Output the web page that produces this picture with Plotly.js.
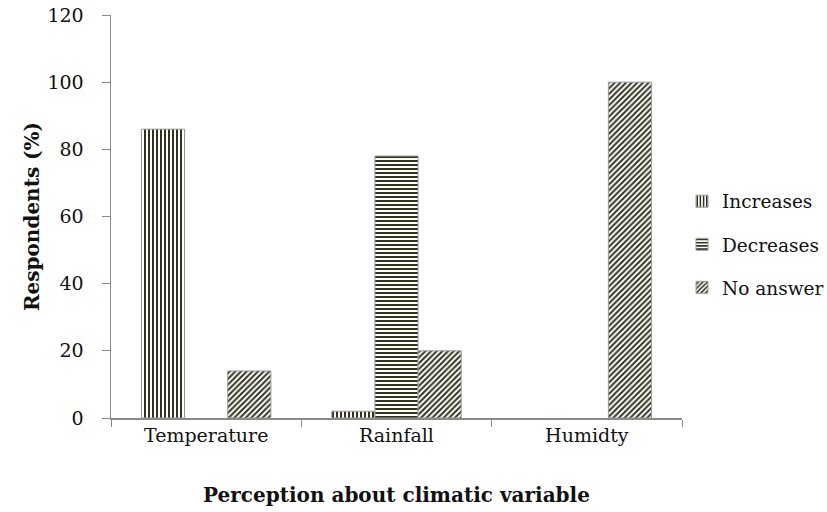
<!DOCTYPE html>
<html>
<head>
<meta charset="utf-8">
<script src="https://cdn.plot.ly/plotly-3.0.1.min.js"></script>
<style>html,body{margin:0;padding:0;background:#fff;}#chart{width:827px;height:512px;}</style>
</head>
<body>
<div id="chart"></div>
<script>
var categories = ["Temperature", "Rainfall", "Humidty"];
var increases = [86, 2, null];
var decreases = [null, 78, null];
var noAnswer = [14, 20, 100];
var yTicks = [0, 20, 40, 60, 80, 100, 120];

var fg = "#34321f";
function mk(name, vals, shape, grp) {
  return {
    type: "bar", name: name, x: categories, y: vals, legendgroup: grp,
    marker: {
      color: fg,
      line: {color: "#9a9a9a", width: 1},
      pattern: {shape: shape, fgcolor: fg, bgcolor: "#ffffff", fgopacity: 1, size: 4, solidity: 0.5, fillmode: "replace"}
    }
  };
}
var data = [
  mk("Increases", increases, "|", "a"),
  mk("Decreases", decreases, "-", "b"),
  mk("No answer", noAnswer, "/", "c")
];
var font = "DejaVu Serif, Georgia, serif";
var layout = {
  width: 827, height: 512,
  margin: {l: 111, r: 145, t: 15, b: 94, autoexpand: false},
  paper_bgcolor: "#fff", plot_bgcolor: "#fff",
  barmode: "group", bargap: 0.32, bargroupgap: 0,
  font: {family: font, size: 19, color: "#111"},
  showlegend: true,
  legend: {x: 1.0, y: 0.43, xanchor: "left", yanchor: "middle", font: {size: 18.5, family: font, color: "#111"},
           itemwidth: 30, tracegroupgap: 16},
  xaxis: {
    showline: true, linecolor: "#8a8a8a", linewidth: 1.5,
    ticks: "outside", tickson: "boundaries", ticklen: 7, tickcolor: "#8a8a8a",
    tickfont: {size: 19, family: font},
    title: {text: "<b>Perception about climatic variable</b>", font: {size: 20, family: font}, standoff: 42}
  },
  yaxis: {
    range: [0, 120], tickvals: yTicks, showgrid: false, zeroline: false,
    showline: true, linecolor: "#8a8a8a", linewidth: 1.5,
    ticks: "outside", ticklen: 8, tickcolor: "#8a8a8a", ticklabelstandoff: 14,
    tickfont: {size: 19, family: font},
    title: {text: "<b>Respondents (%)</b>", font: {size: 20, family: font}, standoff: 2}
  }
};
Plotly.newPlot("chart", data, layout, {displayModeBar: false, staticPlot: true});
</script>
</body>
</html>
